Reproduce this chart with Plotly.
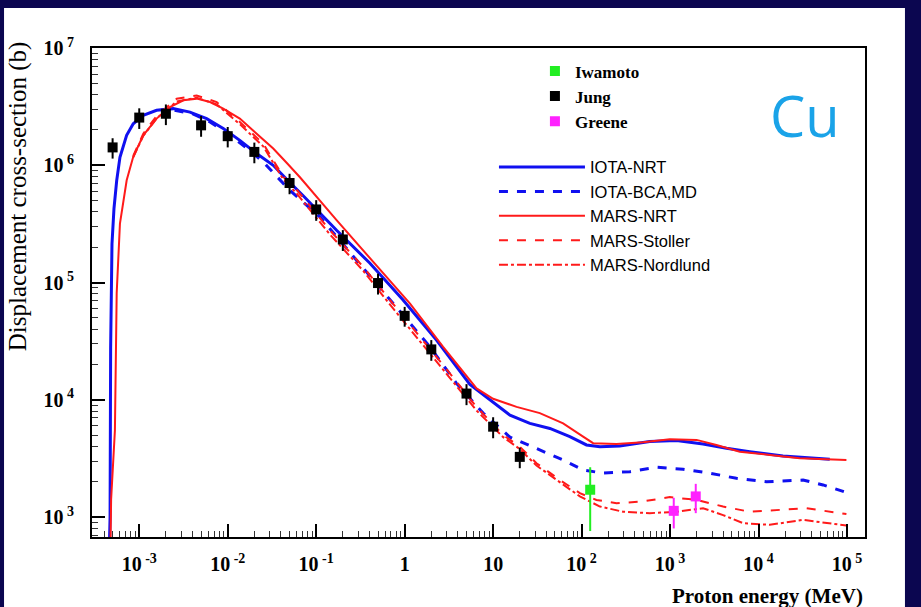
import plotly.graph_objects as go

# ---------------- data ----------------
iota_nrt_E = [4.52e-4, 4.68e-4, 4.75e-4, 4.92e-4, 5.18e-4, 5.56e-4, 6.05e-4, 7.2e-4, 8.55e-4,
              1.11e-3, 1.57e-3, 2.42e-3, 3.74e-3, 5.78e-3, 8.9e-3, 1.37e-2, 2.12e-2, 3.27e-2,
              4.63e-2, 7.13e-2, 0.17, 0.405, 0.96, 2.29, 5.46, 9.18, 15.5, 26, 43.8, 73.6,
              113.5, 161, 270, 589, 1180, 2360, 4340, 7940, 1.89e4, 6.38e4]
iota_nrt_Y = [316, 1.0e3, 2.8e4, 2.14e5, 4.27e5, 7.4e5, 1.17e6, 1.8e6, 2.26e6,
              2.67e6, 2.94e6, 3.04e6, 2.84e6, 2.5e6, 2.06e6, 1.63e6, 1.26e6, 1.0e6,
              7.6e5, 5.5e5, 2.79e5, 1.46e5, 7.1e4, 3.23e4, 1.35e4, 9.95e3, 7.4e3, 6.3e3, 5.7e3, 4.85e3,
              4.12e3, 3.98e3, 4.03e3, 4.4e3, 4.49e3, 4.2e3, 3.86e3, 3.61e3, 3.32e3, 3.11e3]

iota_bca_E = [2.51e-3, 3.98e-3, 6.31e-3, 1e-2, 1.58e-2, 2.51e-2, 5.05e-2, 0.11, 0.286, 0.81,
              1.93, 3.85, 7.7, 15.5, 36.7, 61.8, 104, 175, 351, 701, 1400, 2810, 5620,
              1.23e4, 3.18e4, 5.36e4, 9.84e4]
iota_bca_Y = [2.95e6, 2.75e6, 2.34e6, 1.86e6, 1.43e6, 1.07e6, 6.1e5, 3.63e5, 1.55e5, 6.2e4,
              2.83e4, 1.38e4, 7.7e3, 4.8e3, 3.61e3, 3.07e3, 2.52e3, 2.37e3, 2.44e3, 2.66e3, 2.56e3, 2.37e3, 2.14e3,
              2.0e3, 2.07e3, 1.88e3, 1.62e3]

mars_nrt_E = [4.68e-4, 4.81e-4, 5.31e-4, 5.56e-4, 6.05e-4, 6.61e-4, 7.21e-4, 8.55e-4, 1.11e-3,
              1.57e-3, 2.22e-3, 3.16e-3, 4.46e-3, 6.31e-3, 8.9e-3, 1.37e-2, 2.12e-2, 3.27e-2,
              4.63e-2, 6.55e-2, 0.17, 0.525, 1.15, 2.72, 6.49, 10, 18.4, 33.7, 61.8, 104, 135,
              248, 495, 993, 1990, 3340, 6140, 1.34e4, 2.92e4, 9.84e4]
mars_nrt_Y = [316, 1.41e3, 5.5e3, 8.1e4, 3.18e5, 5.04e5, 7.45e5, 1.18e6, 1.8e6,
              2.5e6, 3.14e6, 3.58e6, 3.7e6, 3.46e6, 3.04e6, 2.5e6, 1.86e6, 1.39e6,
              1.05e6, 7.9e5, 3.4e5, 1.28e5, 6.6e4, 2.83e4, 1.25e4, 1.02e4, 8.7e3, 7.7e3, 6.3e3, 4.85e3, 4.27e3,
              4.2e3, 4.35e3, 4.61e3, 4.55e3, 4.12e3, 3.61e3, 3.39e3, 3.18e3, 3.07e3]

mars_stoller_E = [8.55e-4, 1.11e-3, 1.57e-3, 2.65e-3, 4.46e-3, 7.5e-3, 1.37e-2, 2.52e-2, 4.24e-2,
                  6.0e-2, 0.143, 0.34, 0.68, 1.49, 3.24, 6.49, 13, 20, 30.9, 56.8, 95.5, 147, 248,
                  495, 993, 1990, 3970, 7940, 1.74e4, 3.48e4, 9.84e4]
mars_stoller_Y = [1.2e6, 1.86e6, 2.63e6, 3.7e6, 3.94e6, 3.46e6, 2.34e6, 1.53e6, 8.0e5,
                  6.2e5, 2.79e5, 1.36e5, 7.1e4, 3.45e4, 1.68e4, 8.7e3, 5.0e3, 3.98e3, 2.88e3, 2.07e3, 1.6e3, 1.4e3, 1.31e3,
                  1.36e3, 1.48e3, 1.4e3, 1.23e3, 1.11e3, 1.15e3, 1.19e3, 1.06e3]

mars_nordlund_E = [8.55e-4, 1.11e-3, 1.57e-3, 2.65e-3, 4.46e-3, 7.5e-3, 1.37e-2, 2.52e-2, 4.24e-2,
                   6.0e-2, 0.143, 0.34, 0.68, 1.49, 3.24, 6.49, 13, 20, 30.9, 56.8, 95.5, 161, 294,
                   589, 1180, 2360, 3970, 6680, 1.34e4, 3.18e4, 5.85e4, 9.84e4]
mars_nordlund_Y = [1.17e6, 1.78e6, 2.51e6, 3.5e6, 3.76e6, 3.31e6, 2.24e6, 1.45e6, 7.6e5,
                   5.75e5, 2.57e5, 1.26e5, 6.5e4, 3.16e4, 1.55e4, 8.1e3, 4.8e3, 3.8e3, 2.75e3, 2.0e3, 1.5e3, 1.23e3, 1.11e3,
                   1.08e3, 1.11e3, 1.19e3, 1.04e3, 887, 859, 946, 887, 847]

jung_E = [5e-4, 1e-3, 2e-3, 5e-3, 1e-2, 2e-2, 5e-2, 0.1, 0.2, 0.5, 1, 2, 5, 10, 20]
jung_Y = [1.42e6, 2.55e6, 2.75e6, 2.19e6, 1.77e6, 1.30e6, 7.06e5, 4.2e5, 2.33e5, 9.9e4, 5.2e4,
          2.69e4, 1.13e4, 5.9e3, 3.26e3]
jung_err = [2.8e5, 5.1e5, 5.5e5, 4.4e5, 3.5e5, 2.6e5, 1.4e5, 8.4e4, 4.7e4, 2.0e4, 1.0e4,
            5.4e3, 2.3e3, 1.2e3, 6.5e2]

iwamoto_E = [125]
iwamoto_Y = [1.71e3]
iwamoto_err = [950]

greene_E = [1.1e3, 1.95e3]
greene_Y = [1.13e3, 1.5e3]
greene_err = [330, 420]

x_tickvals = [1e-3, 1e-2, 1e-1, 1, 10, 1e2, 1e3, 1e4, 1e5]
x_ticktext = ["10<sup>\u00a0-3</sup>", "10<sup>\u00a0-2</sup>", "10<sup>\u00a0-1</sup>", "1", "10",
              "10<sup>\u00a02</sup>", "10<sup>\u00a03</sup>", "10<sup>\u00a04</sup>", "10<sup>\u00a05</sup>"]
y_tickvals = [1e3, 1e4, 1e5, 1e6, 1e7]
y_ticktext = ["10<sup>\u00a03</sup>", "10<sup>\u00a04</sup>", "10<sup>\u00a05</sup>",
              "10<sup>\u00a06</sup>", "10<sup>\u00a07</sup>"]
minor_vals = [m * 10.0 ** d for d in range(-4, 8) for m in range(2, 10)]

# ---------------- styles ----------------
BLUE = "#1010f0"
RED = "#ff1a1a"
SERIF = "Liberation Serif"
SANS = "Liberation Sans"

fig = go.Figure()

# model curves (legend2)
fig.add_trace(go.Scatter(x=iota_nrt_E, y=iota_nrt_Y, mode="lines", name="IOTA-NRT",
                         line=dict(color=BLUE, width=3), legend="legend2"))
fig.add_trace(go.Scatter(x=iota_bca_E, y=iota_bca_Y, mode="lines", name="IOTA-BCA,MD",
                         line=dict(color=BLUE, width=3, dash="dash"), legend="legend2"))
fig.add_trace(go.Scatter(x=mars_nrt_E, y=mars_nrt_Y, mode="lines", name="MARS-NRT",
                         line=dict(color=RED, width=2), legend="legend2"))
fig.add_trace(go.Scatter(x=mars_stoller_E, y=mars_stoller_Y, mode="lines", name="MARS-Stoller",
                         line=dict(color=RED, width=2, dash="dash"), legend="legend2"))
fig.add_trace(go.Scatter(x=mars_nordlund_E, y=mars_nordlund_Y, mode="lines", name="MARS-Nordlund",
                         line=dict(color=RED, width=2, dash="dashdot"), legend="legend2"))

# experimental data (legend)
fig.add_trace(go.Scatter(x=iwamoto_E, y=iwamoto_Y, mode="markers", name="Iwamoto",
                         marker=dict(color="#22ee22", symbol="square", size=10),
                         error_y=dict(type="data", array=iwamoto_err, color="#22ee22", thickness=2, width=0),
                         legend="legend"))
fig.add_trace(go.Scatter(x=jung_E, y=jung_Y, mode="markers", name="Jung",
                         marker=dict(color="black", symbol="square", size=10),
                         error_y=dict(type="data", array=jung_err, color="black", thickness=2, width=0),
                         legend="legend"))
fig.add_trace(go.Scatter(x=greene_E, y=greene_Y, mode="markers", name="Greene",
                         marker=dict(color="#ff22ff", symbol="square", size=10),
                         error_y=dict(type="data", array=greene_err, color="#ff22ff", thickness=2, width=0),
                         legend="legend"))

axis_common = dict(type="log", showgrid=False, zeroline=False, showline=True, linecolor="black",
                   linewidth=2, mirror=True, ticks="inside", ticklen=13, tickwidth=1.5,
                   tickcolor="black", tickmode="array",
                   tickfont=dict(family=SERIF, size=20, color="black", weight="bold"),
                   minor=dict(tickmode="array", tickvals=minor_vals, ticks="inside", ticklen=6,
                              tickwidth=1.2, tickcolor="#333333", showgrid=False))

fig.update_layout(
    width=921, height=607,
    margin=dict(l=92, r=56, t=48, b=70, autoexpand=False),
    paper_bgcolor="#0b0650",
    plot_bgcolor="white",
    xaxis=dict(range=[-3.534, 5.203], tickvals=x_tickvals, ticktext=x_ticktext,
               ticklabelstandoff=8, **axis_common),
    yaxis=dict(range=[2.83, 7.0], tickvals=y_tickvals, ticktext=y_ticktext,
               ticklabelstandoff=12, **axis_common),
    legend=dict(x=0.573, y=0.989, xanchor="left", yanchor="top", bgcolor="rgba(0,0,0,0)",
                font=dict(family=SERIF, size=17, color="black", weight="bold"), tracegroupgap=0),
    legend2=dict(x=0.52, y=0.792, xanchor="left", yanchor="top", bgcolor="rgba(0,0,0,0)",
                 font=dict(family=SANS, size=16.5, color="black"), itemwidth=86,
                 tracegroupgap=0),
    shapes=[dict(type="rect", xref="paper", yref="paper", x0=-0.1138, x1=1.0517, y0=-0.1431, y1=1.0818,
                 fillcolor="white", line=dict(width=0), layer="below")],
    annotations=[
        dict(text="Cu", xref="paper", yref="paper", x=0.922, y=0.862, showarrow=False,
             font=dict(family="Open Sans", size=56, color="#1aa3e8"), xanchor="center", yanchor="middle"),
        dict(text="Proton energy (MeV)", xref="paper", yref="paper", x=1.0, y=-0.121, showarrow=False,
             font=dict(family=SERIF, size=21, color="black", weight="bold"), xanchor="right", yanchor="middle"),
        dict(text="Displacement cross-section (b)", xref="paper", yref="paper", x=-0.0957, y=1.018,
             showarrow=False, textangle=-90,
             font=dict(family=SERIF, size=25, color="black"), xanchor="center", yanchor="top"),
    ],
    showlegend=True,
)

fig.write_html("out.html", config={"displayModeBar": False},
               post_script="document.body.style.margin='0px';document.body.style.padding='0px';")
